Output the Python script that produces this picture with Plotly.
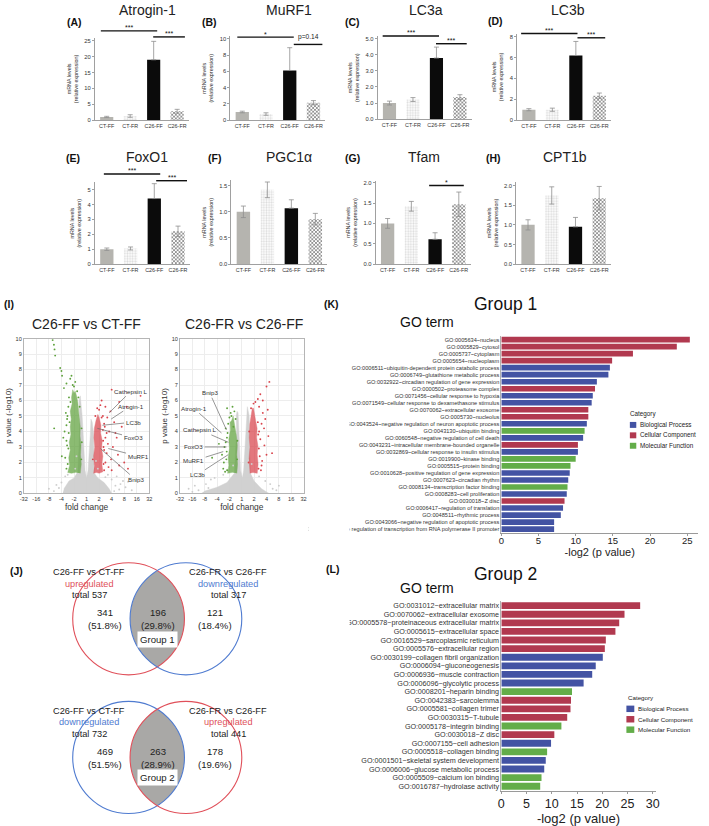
import numpy as np
import plotly.graph_objects as go

W, H = 709, 826
FONT = "Liberation Sans, Arial, Helvetica, sans-serif"

# ======================= DATA =======================
# ---- qPCR bar panels (mean, sem) ----
groups = ["CT-FF", "CT-FR", "C26-FF", "C26-FR"]
atrogin1_mean = [1.0, 1.3, 19.0, 2.8]
atrogin1_sem = [0.2, 0.4, 5.8, 0.6]
murf1_mean = [1.0, 0.75, 6.1, 2.15]
murf1_sem = [0.1, 0.15, 2.8, 0.25]
lc3a_mean = [1.0, 1.22, 3.8, 1.37]
lc3a_sem = [0.12, 0.12, 0.68, 0.15]
lc3b_mean = [1.0, 1.0, 6.2, 2.35]
lc3b_sem = [0.1, 0.15, 1.35, 0.25]
foxo1_mean = [1.0, 1.05, 4.4, 2.2]
foxo1_sem = [0.08, 0.1, 1.0, 0.35]
pgc1a_mean = [1.0, 1.42, 1.07, 0.86]
pgc1a_sem = [0.11, 0.15, 0.16, 0.11]
tfam_mean = [1.0, 1.42, 0.61, 1.47]
tfam_sem = [0.12, 0.12, 0.16, 0.3]
cpt1b_mean = [1.0, 1.75, 0.95, 1.68]
cpt1b_sem = [0.13, 0.22, 0.24, 0.3]

# significance brackets: (from group position, to group position, level, label)
atrogin1_sig = [(-0.25, 2.15, 28.1, "***"), (1.98, 3.33, 26.2, "***")]
murf1_sig = [(-0.21, 2.17, 10.2, "*"), (2.17, 3.375, 9.3, "p=0.14")]
lc3a_sig = [(-0.29, 2.11, 5.17, "***"), (1.98, 3.29, 4.69, "***")]
lc3b_sig = [(-0.33, 2.07, 8.31, "***"), (2.07, 3.25, 7.9, "***")]
foxo1_sig = [(-0.125, 2.25, 6.05, "***"), (2.08, 3.38, 5.6, "***")]
pgc1a_sig = []
tfam_sig = [(1.75, 3.21, 1.93, "*")]
cpt1b_sig = []

# ---- volcano plots (x = signed log2 fold change, y = -log10 p) ----
fc_tickvals = [-5, -4, -3, -2, -1, 0, 1, 2, 3, 4, 5]
fc_ticktext = ["-32", "-16", "-8", "-4", "-2", "1", "2", "4", "8", "16", "32"]

# panel 1: C26-FF vs CT-FF  (dense-cloud outlines + individual outlying genes)
v1_gray_x = [-1.9, -0.9, 0.2, 1.2, 2.0, 1.8, 1.4, 0.9, 0.62, 0.6, 0.58, 0.55, 0.45, 0.35, 0.3, 0.2, 0.12, 0.0,
             -0.12, -0.18, -0.2, -0.28, -0.35, -0.42, -0.5, -0.6, -0.55, -0.6, -0.7, -1.0, -1.4, -1.8]
v1_gray_y = [0, 0, 0, 0, 0, 0.3, 0.7, 1.0, 1.3, 2.2, 3.0, 3.9, 4.6, 4.8, 3.8, 2.5, 1.5, 1.0,
             1.5, 2.4, 3.0, 4.0, 5.0, 5.8, 6.3, 6.0, 4.5, 3.0, 1.4, 1.0, 0.8, 0.3]
v1_green_x = [-0.5, -0.42, -0.48, -0.44, -0.52, -0.5, -0.58, -0.62, -0.7, -0.8, -0.9, -1.0, -1.1, -1.2,
              -1.15, -1.3, -1.22, -1.3, -1.25, -1.38, -1.3, -1.42, -1.35, -1.5, -1.2, -0.9]
v1_green_y = [1.3, 1.9, 2.5, 3.1, 3.7, 4.3, 4.9, 5.4, 5.9, 6.3, 6.6, 6.5, 6.7, 6.2, 5.8, 5.3, 4.8, 4.3,
              3.8, 3.3, 2.8, 2.3, 1.8, 1.35, 1.3, 1.35]
v1_red_x = [0.55, 0.8, 1.0, 1.3, 1.22, 1.3, 1.2, 1.25, 1.12, 1.15, 1.0, 0.9, 0.75, 0.62, 0.58, 0.65, 0.56, 0.62]
v1_red_y = [1.3, 1.35, 1.3, 1.4, 1.9, 2.4, 2.9, 3.4, 3.9, 4.4, 4.9, 5.1, 4.7, 4.2, 3.6, 3.0, 2.4, 1.8]
v1_gray_pts_x = [2.3, 2.6, 3.1, 2.0, 2.4, -2.2, -2.6, -2.0, 3.6, 1.7, -1.7, 0.9, -0.9, 2.9, -3.0, 2.2, -2.4,
                 1.5, -1.5, 0.75, -0.8, 2.7, 3.3]
v1_gray_pts_y = [0.5, 0.25, 0.4, 0.9, 1.1, 0.35, 0.15, 0.7, 0.2, 1.2, 1.1, 1.6, 1.6, 0.8, 0.3, 0.15, 0.55,
                 1.05, 1.2, 2.1, 2.4, 0.6, 0.75]
v1_green_pts_x = [-1.6, -1.7, -1.6, -1.75, -1.55, -1.45, -1.4, -1.1, -1.6, -1.95, -2.0, -2.1, -2.5, -2.55,
                  -2.6, -2.7, -2.58, -1.97, -0.9, -1.3, -1.8, -1.45, -1.65, -1.5, -1.55, -1.42, -1.35, -1.28,
                  -1.0, -0.75, -0.55, -0.4, -0.42, -1.6, -1.52, -1.85, -1.2, -0.65, -0.38]
v1_green_pts_y = [1.6, 2.3, 3.4, 4.0, 4.8, 5.6, 6.2, 7.0, 7.1, 7.6, 7.9, 8.1, 8.9, 9.3, 9.6, 9.9, 4.2, 2.4,
                  7.2, 7.4, 6.8, 2.9, 5.2, 1.9, 3.1, 3.9, 4.6, 5.9, 6.9, 6.6, 5.6, 4.2, 2.2, 4.4, 5.0,
                  3.6, 7.6, 6.2, 3.3]
v1_red_pts_x = [1.4, 1.5, 1.6, 1.7, 1.5, 1.8, 1.4, 1.3, 1.5, 1.2, 2.0, 1.9, 2.2, 2.1, 2.5, 2.6, 2.4, 3.0,
                3.3, 2.8, 4.3, 3.2, 2.6, 1.75, 1.95, 2.3, 1.35, 1.65, 1.35, 1.4, 1.32, 1.3, 1.2, 1.0, 0.7,
                0.5, 1.45, 1.6, 2.0, 0.85, 1.1]
v1_red_pts_y = [1.5, 2.0, 2.6, 3.2, 3.6, 4.0, 4.5, 5.0, 5.6, 6.0, 6.7, 5.3, 4.6, 3.0, 2.5, 1.8, 3.6, 2.0,
                1.6, 4.3, 6.3, 5.6, 5.9, 1.7, 2.2, 3.9, 3.0, 4.9, 1.9, 2.8, 3.4, 4.1, 4.9, 5.4, 5.0, 2.2,
                4.3, 3.9, 1.5, 5.5, 5.7]
v1_labels = ["Cathepsin L", "Atrogin-1", "LC3b", "FoxO3", "MuRF1", "Bnip3"]
v1_label_pt_x = [1.8, 1.96, 1.26, 0.86, 1.73, 1.1]
v1_label_pt_y = [5.2, 4.8, 4.4, 4.2, 2.9, 2.9]

# panel 2: C26-FR vs C26-FF
v2_gray_x = [-3.3, -1.5, 0.0, 1.2, 2.2, 1.6, 1.0, 0.7, 0.66, 0.65, 0.62, 0.6, 0.52, 0.45, 0.38, 0.3, 0.2,
             0.15, 0.05, -0.1, -0.15, -0.2, -0.25, -0.3, -0.38, -0.45, -0.42, -0.48, -0.6, -1.2, -2.0, -3.0]
v2_gray_y = [0, 0, 0, 0, 0, 0.3, 0.8, 1.3, 2.2, 3.0, 4.0, 5.0, 5.4, 5.6, 4.6, 3.5, 2.4, 1.5, 1.0, 1.5,
             2.5, 3.5, 4.4, 5.2, 5.3, 5.0, 4.0, 3.0, 1.3, 0.7, 0.4, 0.15]
v2_green_x = [-0.4, -0.34, -0.4, -0.36, -0.45, -0.55, -0.7, -0.82, -0.95, -0.92, -1.05, -1.0, -1.1, -1.05,
              -1.15, -0.8]
v2_green_y = [1.3, 1.9, 2.5, 3.1, 3.8, 4.4, 5.0, 4.7, 4.6, 4.1, 3.5, 2.9, 2.3, 1.8, 1.3, 1.35]
v2_red_x = [0.65, 0.9, 1.25, 1.32, 1.25, 1.3, 1.2, 1.24, 1.12, 1.05, 0.95, 0.85, 0.72, 0.65, 0.6, 0.66, 0.58]
v2_red_y = [1.3, 1.35, 1.3, 1.9, 2.5, 3.1, 3.6, 4.2, 4.7, 5.2, 5.5, 5.5, 5.0, 4.5, 3.6, 3.0, 2.2]
v2_gray_pts_x = [-4.3, -3.8, -2.9, -2.5, 2.5, 2.8, -3.5, -2.2, 1.9, -1.5, -4.0, 2.3, -1.2, 1.4, -0.7, 0.8,
                 -2.7, 3.0]
v2_gray_pts_y = [0.3, 0.5, 0.6, 0.9, 0.3, 0.2, 0.2, 1.0, 0.8, 1.2, 0.1, 0.6, 1.5, 1.1, 1.8, 1.9, 0.35, 0.5]
v2_green_pts_x = [-0.84, -1.19, -1.85, -1.3, -1.4, -1.25, -1.5, -0.6, -1.0, -1.6, -1.35, -2.4, -1.2, -0.75,
                  -1.18, -1.22, -1.15, -1.1, -0.9, -0.38, -0.36, -0.5, -1.45, -1.3, -0.68]
v2_green_pts_y = [5.0, 5.5, 3.2, 4.2, 3.0, 2.2, 1.6, 5.3, 4.9, 2.5, 1.4, 2.3, 3.6, 5.6, 1.5, 2.7, 3.9,
                  4.5, 5.2, 2.2, 3.4, 4.8, 2.0, 3.3, 4.3]
v2_red_pts_x = [2.23, 2.0, 1.7, 1.5, 1.4, 1.83, 2.15, 1.6, 1.5, 1.45, 1.6, 2.0, 1.3, 1.1, 1.9, 1.7, 2.45,
                1.4, 1.55, 1.35, 1.38, 1.33, 1.3, 0.95, 0.6, 0.55, 0.75, 1.65, 1.8, 2.1]
v2_red_pts_y = [7.2, 6.9, 6.0, 6.4, 5.6, 3.1, 3.7, 4.5, 3.5, 2.4, 1.8, 2.5, 6.1, 5.9, 4.8, 5.2, 2.6,
                4.0, 1.5, 1.6, 2.9, 3.8, 4.6, 5.8, 4.0, 2.0, 5.5, 2.1, 4.2, 5.4]
v2_labels = ["Bnip3", "Atrogin-1", "Cathepsin L", "FoxO3", "MuRF1", "LC3b"]
v2_label_pt_x = [-1.24, -1.64, -1.08, -1.24, -1.5, -1.1]
v2_label_pt_y = [4.1, 3.9, 3.3, 3.0, 2.7, 2.5]

# ---- Venn diagrams ----
venn1_left_title = ["C26-FF vs CT-FF", "upregulated", "total 537"]
venn1_right_title = ["C26-FR vs C26-FF", "downregulated", "total 317"]
venn1_counts = ["341", "196", "121"]
venn1_pcts = ["(51.8%)", "(29.8%)", "(18.4%)"]
venn2_left_title = ["C26-FF vs CT-FF", "downregulated", "total 732"]
venn2_right_title = ["C26-FR vs C26-FF", "upregulated", "total 441"]
venn2_counts = ["469", "263", "178"]
venn2_pcts = ["(51.5%)", "(28.9%)", "(19.6%)"]

# ---- GO enrichment ----
go_categories = ["Biological Process", "Cellular Component", "Molecular Function"]
go1_terms = [
    "GO:0005634~nucleus", "GO:0005829~cytosol", "GO:0005737~cytoplasm", "GO:0005654~nucleoplasm",
    "GO:0006511~ubiquitin-dependent protein catabolic process", "GO:0006749~glutathione metabolic process",
    "GO:0032922~circadian regulation of gene expression", "GO:0000502~proteasome complex",
    "GO:0071456~cellular response to hypoxia", "GO:0071549~cellular response to dexamethasone stimulus",
    "GO:0070062~extracellular exosome", "GO:0005730~nucleolus",
    "GO:0043524~negative regulation of neuron apoptotic process", "GO:0043130~ubiquitin binding",
    "GO:0060548~negative regulation of cell death", "GO:0043231~intracellular membrane-bounded organelle",
    "GO:0032869~cellular response to insulin stimulus", "GO:0019900~kinase binding",
    "GO:0005515~protein binding", "GO:0010628~positive regulation of gene expression",
    "GO:0007623~circadian rhythm", "GO:0008134~transcription factor binding",
    "GO:0008283~cell proliferation", "GO:0030018~Z disc", "GO:0006417~regulation of translation",
    "GO:0048511~rhythmic process", "GO:0043066~negative regulation of apoptotic process",
    "GO:0000122~negative regulation of transcription from RNA polymerase II promoter"]
go1_values = [25.35, 23.6, 17.7, 14.9, 14.6, 14.4, 12.85, 12.6, 12.3, 12.15, 11.7, 11.7, 11.5, 11.2,
              11.0, 10.3, 10.3, 10.0, 9.3, 9.2, 9.0, 8.9, 8.8, 8.5, 8.3, 8.0, 7.1, 7.1]
go1_cat = ["Cellular Component"] * 4 + ["Biological Process"] * 3 + ["Cellular Component"] + \
          ["Biological Process"] * 2 + ["Cellular Component"] * 2 + ["Biological Process", "Molecular Function",
          "Biological Process", "Cellular Component", "Biological Process", "Molecular Function",
          "Molecular Function", "Biological Process", "Biological Process", "Molecular Function",
          "Biological Process", "Cellular Component", "Biological Process", "Biological Process",
          "Biological Process", "Biological Process"]

go2_terms = [
    "GO:0031012~extracellular matrix", "GO:0070062~extracellular exosome",
    "GO:0005578~proteinaceous extracellular matrix", "GO:0005615~extracellular space",
    "GO:0016529~sarcoplasmic reticulum", "GO:0005576~extracellular region",
    "GO:0030199~collagen fibril organization", "GO:0006094~gluconeogenesis",
    "GO:0006936~muscle contraction", "GO:0006096~glycolytic process", "GO:0008201~heparin binding",
    "GO:0042383~sarcolemma", "GO:0005581~collagen trimer", "GO:0030315~T-tubule",
    "GO:0005178~integrin binding", "GO:0030018~Z disc", "GO:0007155~cell adhesion",
    "GO:0005518~collagen binding", "GO:0001501~skeletal system development",
    "GO:0006006~glucose metabolic process", "GO:0005509~calcium ion binding",
    "GO:0016787~hydrolase activity"]
go2_values = [27.5, 24.4, 23.35, 22.6, 20.7, 20.5, 20.1, 18.7, 18.0, 16.3, 14.0, 13.8, 13.7, 13.05,
              11.9, 10.5, 9.85, 9.07, 8.8, 8.5, 7.96, 7.7]
go2_cat = ["Cellular Component"] * 6 + ["Biological Process"] * 4 + ["Molecular Function"] + \
          ["Cellular Component"] * 3 + ["Molecular Function", "Cellular Component", "Biological Process",
          "Molecular Function", "Biological Process", "Biological Process", "Molecular Function",
          "Molecular Function"]

# ======================= STYLE / HELPERS =======================
def X(px):
    return px / W


def Y(py):
    return 1 - py / H


CAT_COLORS = {"Biological Process": "#4353a3", "Cellular Component": "#b1394f", "Molecular Function": "#63ad49"}
GREEN, RED, GRAYPT = "#5fa23d", "#d9444c", "#cdcdcd"

fig = go.Figure()
layout = dict(width=W, height=H, margin=dict(l=0, r=0, t=0, b=0), paper_bgcolor="white",
              plot_bgcolor="white", showlegend=False, barmode="overlay",
              font=dict(family=FONT, color="#222"))
shapes, annots = [], []
_axn = [0]


def new_axes(xpx, ypx, xopts, yopts):
    _axn[0] += 1
    s = "" if _axn[0] == 1 else str(_axn[0])
    xa, ya = "x" + s, "y" + s
    layout["xaxis" + s] = dict(domain=[X(xpx[0]), X(xpx[1])], anchor=ya, **xopts)
    layout["yaxis" + s] = dict(domain=[Y(ypx[1]), Y(ypx[0])], anchor=xa, **yopts)
    return xa, ya


def text(px, py, s, size, color="#222", bold=False, xanchor="center", yanchor="middle", **kw):
    annots.append(dict(x=X(px), y=Y(py), xref="paper", yref="paper",
                       text=("<b>%s</b>" % s) if bold else s, showarrow=False,
                       font=dict(size=size, color=color, family=FONT),
                       xanchor=xanchor, yanchor=yanchor, **kw))


# ======================= BAR PANELS =======================
bar_fill = ["#b5b4af", "#dcdcdc", "#0b0b0b", "#6a6a6a"]
bar_shape = ["", ".", "", "x"]
bar_fg = ["#b5b4af", "#f3f3f3", "#0b0b0b", "#2e2e2e"]
bar_bg = ["#b5b4af", "#d8d8d8", "#0b0b0b", "#a2a2a2"]
show_lower_whisker = [1, 1, 0, 1]

bar_panels = [
    dict(title="Atrogin-1", tag="(A)", m=atrogin1_mean, e=atrogin1_sem, sig=atrogin1_sig,
         xpx=(92, 187), zero=118, ref=(25, 38), ymax=26, dtick=5, fmt="", title_xy=(145, 7), tag_xy=(71, 19)),
    dict(title="MuRF1", tag="(B)", m=murf1_mean, e=murf1_sem, sig=murf1_sig,
         xpx=(229, 325), zero=118, ref=(10, 36), ymax=10.3, dtick=2, fmt="", title_xy=(288, 7), tag_xy=(208, 19)),
    dict(title="LC3a", tag="(C)", m=lc3a_mean, e=lc3a_sem, sig=lc3a_sig,
         xpx=(378, 473), zero=117, ref=(5, 36), ymax=5.15, dtick=1, fmt=".1f", title_xy=(427, 7), tag_xy=(352, 19)),
    dict(title="LC3b", tag="(D)", m=lc3b_mean, e=lc3b_sem, sig=lc3b_sig,
         xpx=(519, 614), zero=118, ref=(8, 34), ymax=8.3, dtick=2, fmt="", title_xy=(570, 7), tag_xy=(497, 18)),
    dict(title="FoxO1", tag="(E)", m=foxo1_mean, e=foxo1_sem, sig=foxo1_sig,
         xpx=(92, 188), zero=263, ref=(5, 188), ymax=5.5, dtick=1, fmt="", title_xy=(145, 155), tag_xy=(70, 156)),
    dict(title="PGC1α", tag="(F)", m=pgc1a_mean, e=pgc1a_sem, sig=pgc1a_sig,
         xpx=(230, 327), zero=263, ref=(1.5, 184), ymax=1.6, dtick=0.5, fmt=".1f", title_xy=(288, 155), tag_xy=(213, 156)),
    dict(title="Tfam", tag="(G)", m=tfam_mean, e=tfam_sem, sig=tfam_sig,
         xpx=(376, 472), zero=263, ref=(2, 181), ymax=2.05, dtick=0.5, fmt=".1f", title_xy=(425, 155), tag_xy=(352, 156)),
    dict(title="CPT1b", tag="(H)", m=cpt1b_mean, e=cpt1b_sem, sig=cpt1b_sig,
         xpx=(518, 614), zero=263, ref=(2, 184), ymax=2.1, dtick=0.5, fmt=".1f", title_xy=(567, 155), tag_xy=(495, 156)),
]

for p in bar_panels:
    scale = (p["zero"] - p["ref"][1]) / p["ref"][0]
    top = p["zero"] - p["ymax"] * scale
    xa, ya = new_axes(
        p["xpx"], (top, p["zero"]),
        dict(type="category", range=[-0.5, 3.5], showline=True, linecolor="#a0a0a0", linewidth=1,
             ticks="", tickfont=dict(size=5.4, color="#333"), tickmode="array", tickvals=groups,
             showgrid=False, zeroline=False, fixedrange=True),
        dict(range=[0, p["ymax"]], dtick=p["dtick"], tick0=0, tickformat=p["fmt"], showline=True,
             linecolor="#a0a0a0", linewidth=1, ticks="outside", ticklen=2, tickcolor="#a0a0a0",
             tickfont=dict(size=5.8, color="#333"), showgrid=False, zeroline=False,
             title=dict(text="mRNA levels<br>(relative expression)", font=dict(size=5.4, color="#333"),
                        standoff=5)))
    fig.add_trace(go.Bar(
        x=groups, y=p["m"], xaxis=xa, yaxis=ya, width=0.56,
        error_y=dict(type="data", symmetric=False, array=p["e"],
                     arrayminus=[e * s for e, s in zip(p["e"], show_lower_whisker)],
                     color="#8f8f8f", thickness=0.8, width=2.5),
        marker=dict(color=bar_fill, line=dict(width=0),
                    pattern=dict(shape=bar_shape, fgcolor=bar_fg, bgcolor=bar_bg, size=2.6, solidity=0.45,
                                 fillmode="replace")),
        hoverinfo="skip"))

    def cx(c, p=p):
        return p["xpx"][0] + (c + 0.5) * (p["xpx"][1] - p["xpx"][0]) / 4

    def vy(v, s=scale, p=p):
        return p["zero"] - v * s

    for (a, b, lev, lab) in p["sig"]:
        shapes.append(dict(type="line", xref="paper", yref="paper", x0=X(cx(a)), x1=X(cx(b)),
                           y0=Y(vy(lev)), y1=Y(vy(lev)), line=dict(color="#111", width=1.4)))
        if lab.startswith("p="):
            text(cx((a + b) / 2), vy(lev) - 1.5, lab, 6.6, color="#222", yanchor="bottom")
        else:
            text(cx((a + b) / 2), vy(lev) + 2.5, lab, 7, color="#111", yanchor="bottom")
    text(p["title_xy"][0], p["title_xy"][1], p["title"], 14, color="#222")
    text(p["tag_xy"][0], p["tag_xy"][1], p["tag"], 10.5, color="#111", bold=True)

# ======================= VOLCANO PLOTS =======================
volcanos = [
    dict(title="C26-FF vs CT-FF", xpx=(20, 147), title_x=83,
         gx=v1_gray_x, gy=v1_gray_y, grx=v1_green_x, gry=v1_green_y, rx=v1_red_x, ry=v1_red_y,
         gpx=v1_gray_pts_x, gpy=v1_gray_pts_y, grpx=v1_green_pts_x, grpy=v1_green_pts_y,
         rpx=v1_red_pts_x, rpy=v1_red_pts_y, labels=v1_labels, lx=v1_label_pt_x, ly=v1_label_pt_y,
         text_pos=[(3.53, 6.6), (3.53, 5.64), (3.7, 4.6), (3.7, 3.6), (4.1, 2.4), (3.9, 0.9)]),
    dict(title="C26-FR vs C26-FF", xpx=(178, 303), title_x=242.5,
         gx=v2_gray_x, gy=v2_gray_y, grx=v2_green_x, gry=v2_green_y, rx=v2_red_x, ry=v2_red_y,
         gpx=v2_gray_pts_x, gpy=v2_gray_pts_y, grpx=v2_green_pts_x, grpy=v2_green_pts_y,
         rpx=v2_red_pts_x, rpy=v2_red_pts_y, labels=v2_labels, lx=v2_label_pt_x, ly=v2_label_pt_y,
         text_pos=[(-2.6, 6.5), (-3.9, 5.5), (-3.4, 4.1), (-3.9, 3.0), (-3.9, 2.1), (-3.6, 1.2)]),
]
for v in volcanos:
    xa, ya = new_axes(
        v["xpx"], (338, 494),
        dict(range=[-5, 5], tickmode="array", tickvals=fc_tickvals, ticktext=fc_ticktext, showgrid=True,
             gridcolor="#ededed", gridwidth=0.6, zeroline=False, showline=True, mirror=True,
             linecolor="#b5b5b5", linewidth=0.8, ticks="", tickfont=dict(size=5.6, color="#333"),
             title=dict(text="fold change", font=dict(size=8.4, color="#333"), standoff=1)),
        dict(range=[0, 10], dtick=1, showgrid=True, gridcolor="#ededed", gridwidth=0.6, zeroline=False,
             showline=True, mirror=True, linecolor="#b5b5b5", linewidth=0.8, ticks="",
             tickfont=dict(size=5.6, color="#333"),
             title=dict(text="p value (-log10)", font=dict(size=8, color="#333"), standoff=2)))
    for px_, py_, col, op in [(v["gx"], v["gy"], GRAYPT, 0.9), (v["grx"], v["gry"], GREEN, 0.72),
                              (v["rx"], v["ry"], RED, 0.72)]:
        fig.add_trace(go.Scatter(x=px_, y=py_, mode="lines", fill="toself", fillcolor=col, opacity=op,
                                 line=dict(width=0.4, color=col), xaxis=xa, yaxis=ya, hoverinfo="skip"))
    for px_, py_, col in [(v["gpx"], v["gpy"], GRAYPT), (v["grpx"], v["grpy"], GREEN), (v["rpx"], v["rpy"], RED)]:
        fig.add_trace(go.Scatter(x=px_, y=py_, mode="markers", marker=dict(size=1.9, color=col),
                                 xaxis=xa, yaxis=ya, hoverinfo="skip"))
    for lab, x0, y0, (tx, ty) in zip(v["labels"], v["lx"], v["ly"], v["text_pos"]):
        annots.append(dict(x=x0, y=y0, xref=xa, yref=ya, axref=xa, ayref=ya, ax=tx, ay=ty, text=lab,
                           showarrow=True, arrowhead=0, arrowwidth=0.7, arrowcolor="#6a6a6a",
                           font=dict(size=6.2, color="#333", family=FONT)))
    text(v["title_x"], 323.5, v["title"], 14, color="#222")
text(5, 303, "(I)", 10.5, color="#111", bold=True)

# ======================= VENN DIAGRAMS =======================
def venn(cy, left_col, right_col, left_title, right_title, counts, pcts, group_label):
    c1, c2, r = 126.0, 184.0, 56.5
    d = c2 - c1
    a = np.arccos((d / 2) / r)
    th1 = np.linspace(a, -a, 60)
    th2 = np.linspace(np.pi + a, np.pi - a, 60)
    xs = np.concatenate([c1 + r * np.cos(th1), c2 + r * np.cos(th2)])
    ys = np.concatenate([cy - r * np.sin(th1), cy - r * np.sin(th2)])
    path = "M " + " L ".join("%.5f,%.5f" % (X(px), Y(py)) for px, py in zip(xs, ys)) + " Z"
    shapes.append(dict(type="path", path=path, xref="paper", yref="paper", fillcolor="#a9a8a6",
                       line=dict(width=0), layer="below"))
    for c, col in [(c1, left_col), (c2, right_col)]:
        shapes.append(dict(type="circle", xref="paper", yref="paper", x0=X(c - r), x1=X(c + r),
                           y0=Y(cy + r), y1=Y(cy - r), line=dict(color=col, width=1.1)))
    ty = cy - 47
    for i, (s, col) in enumerate(zip(left_title, ["#222", left_col, "#222"])):
        text(86, ty + i * 11.7, s, 9.2, color=col)
    for i, (s, col) in enumerate(zip(right_title, ["#222", right_col, "#222"])):
        text(227, ty + i * 11.7, s, 9.2, color=col)
    for xx, cnt, pc in zip([102, 156, 213], counts, pcts):
        text(xx, cy - 6.5, cnt, 9.6)
        text(xx, cy + 7, pc, 9.6)
    text(155.5, cy + 20.5, group_label, 9.6, bgcolor="white", borderpad=2)


RED_V, BLUE_V = "#e0505a", "#4f7bd0"
venn(620.3, RED_V, BLUE_V, venn1_left_title, venn1_right_title, venn1_counts, venn1_pcts, "Group 1")
venn(760.0, BLUE_V, RED_V, venn2_left_title, venn2_right_title, venn2_counts, venn2_pcts, "Group 2")
text(13, 572, "(J)", 10.5, color="#111", bold=True)

# ======================= GO BAR CHARTS =======================
go_panels = [
    dict(terms=go1_terms, vals=go1_values, cats=go1_cat, xpx=(503, 702), ypx=(335.5, 533.5), xmax=26.46,
         lab_size=5.6, tick_size=9.5, title_size=11, lab_shift=-3, group="Group 1", group_y=303, goterm_y=321,
         tag="(K)", tag_xy=(331, 303), leg=dict(cat_xy=(631, 414), sw=(633, 639.5), ys=(425, 435.5, 446),
                                                 tx=641.5, size=6.3, swh=6)),
    dict(terms=go2_terms, vals=go2_values, cats=go2_cat, xpx=(503, 659), ypx=(602.7, 793.3), xmax=30.55,
         lab_size=7.2, tick_size=12.5, title_size=13, lab_shift=-1, group="Group 2", group_y=575, goterm_y=589,
         tag="(L)", tag_xy=(332, 570), leg=dict(cat_xy=(629.5, 700), sw=(629.5, 637.5), ys=(711, 721.5, 732),
                                                 tx=639.5, size=6.2, swh=6.5)),
]
for g in go_panels:
    xa, ya = new_axes(
        g["xpx"], g["ypx"],
        dict(range=[0, g["xmax"]], dtick=5, tick0=0, showline=True, linecolor="#9a9a9a", linewidth=1,
             ticks="outside", ticklen=2, tickcolor="#9a9a9a", tickfont=dict(size=g["tick_size"], color="#222"),
             ticklabelstandoff=g["lab_shift"], showgrid=False, zeroline=False,
             title=dict(text="-log2 (p value)", font=dict(size=g["title_size"], color="#222"), standoff=0)),
        dict(type="category", categoryorder="array", categoryarray=g["terms"], autorange="reversed",
             tickmode="array", tickvals=g["terms"], showline=True, linecolor="#b0b0b0", linewidth=0.8,
             ticks="", tickfont=dict(size=g["lab_size"], color="#333"), showgrid=False, zeroline=False))
    for cat in go_categories:
        ys_ = [t for t, c in zip(g["terms"], g["cats"]) if c == cat]
        xs_ = [vv for vv, c in zip(g["vals"], g["cats"]) if c == cat]
        fig.add_trace(go.Bar(x=xs_, y=ys_, orientation="h", width=0.8, name=cat,
                             marker=dict(color=CAT_COLORS[cat], line=dict(width=0)),
                             xaxis=xa, yaxis=ya, hoverinfo="skip"))
    text(507, g["group_y"], g["group"], 17.5, color="#111")
    text(428, g["goterm_y"], "GO term", 14, color="#111")
    text(g["tag_xy"][0], g["tag_xy"][1], g["tag"], 10.5, color="#111", bold=True)
    lg = g["leg"]
    text(lg["cat_xy"][0], lg["cat_xy"][1], "Category", lg["size"], xanchor="left")
    for cat, yy in zip(go_categories, lg["ys"]):
        shapes.append(dict(type="rect", xref="paper", yref="paper", x0=X(lg["sw"][0]), x1=X(lg["sw"][1]),
                           y0=Y(yy + lg["swh"] / 2), y1=Y(yy - lg["swh"] / 2),
                           fillcolor=CAT_COLORS[cat], line=dict(width=0)))
        text(lg["tx"], yy, cat, lg["size"], xanchor="left")

# the original panels are cropped at the panel border: mask label overflow left of x=350
shapes.append(dict(type="rect", xref="paper", yref="paper", x0=X(308), x1=X(349.5), y0=Y(537), y1=Y(332),
                   fillcolor="white", line=dict(width=0), layer="above"))
shapes.append(dict(type="rect", xref="paper", yref="paper", x0=X(260), x1=X(308), y0=Y(537), y1=Y(525),
                   fillcolor="white", line=dict(width=0), layer="above"))
shapes.append(dict(type="rect", xref="paper", yref="paper", x0=X(300), x1=X(349.5), y0=Y(797), y1=Y(600),
                   fillcolor="white", line=dict(width=0), layer="above"))

layout["shapes"] = shapes
layout["annotations"] = annots
fig.update_layout(**layout)
# remove the browser's default 8px body margin so the 709x826 figure fills the window exactly
fig.write_html("out.html", config={"displayModeBar": False},
               post_script="document.body.style.margin='0px';")
